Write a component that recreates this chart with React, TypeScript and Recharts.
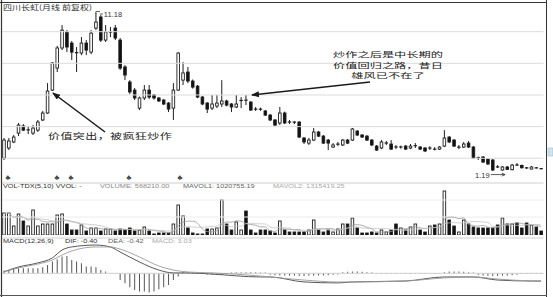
import React from 'react';
import { ComposedChart, Bar, Line, XAxis, YAxis, ReferenceLine, ReferenceDot } from 'recharts';

// ---- Price (monthly, 前复权) ----
const opens = [
  2.01, 2.65, 3.03, 3.59, 4.04, 3.78, 3.59, 3.78, 4.42, 4.86,
  6.31, 7.70, 8.97, 9.98, 9.28, 8.68, 8.65, 9.28, 8.71, 10.23,
  10.93, 9.47, 9.95, 10.23, 9.47, 7.77, 6.82, 6.31, 5.17, 5.81,
  6.31, 6.00, 5.81, 5.68, 5.49, 5.17, 6.31, 6.94, 7.45, 6.88,
  6.56, 5.87, 5.49, 5.17, 5.30, 5.43, 5.62, 5.43, 5.24, 5.60,
  5.68, 5.55, 5.11, 5.11, 4.99, 4.73, 4.42, 4.23, 4.86, 4.30,
  4.29, 4.29, 3.28, 2.96, 3.15, 3.66, 3.40, 3.15, 2.71, 2.88,
  2.84, 3.15, 3.15, 3.72, 3.47, 3.40, 3.15, 2.77, 2.65, 2.96,
  2.90, 2.72, 2.70, 2.77, 2.65, 2.78, 2.71, 2.65, 2.64, 2.58,
  2.58, 2.77, 3.34, 3.15, 2.70, 2.71, 2.96, 2.71, 2.04, 2.08,
  1.95, 1.89, 1.46, 1.26, 1.45, 1.28, 1.58, 1.55, 1.40, 1.32,
  1.40, 1.35,
];
const highs = [
  3.28, 3.28, 3.47, 4.23, 4.16, 4.04, 4.10, 4.42, 4.99, 6.75,
  8.08, 9.10, 10.42, 10.10, 9.41, 9.03, 9.66, 9.47, 10.10, 11.18,
  11.05, 10.42, 10.30, 10.42, 9.60, 7.89, 6.94, 6.44, 5.90, 6.63,
  6.63, 6.06, 5.87, 5.75, 5.55, 6.75, 8.71, 8.08, 7.77, 6.98,
  6.63, 5.93, 5.55, 6.00, 6.00, 6.94, 5.70, 5.49, 6.00, 5.87,
  6.00, 5.62, 5.24, 5.20, 5.05, 4.80, 4.48, 5.24, 4.95, 4.42,
  4.35, 4.35, 3.34, 3.28, 3.91, 3.72, 3.47, 3.22, 2.96, 3.03,
  3.22, 3.22, 3.91, 3.78, 3.53, 3.47, 3.22, 2.84, 3.15, 3.09,
  3.15, 2.84, 2.80, 2.84, 2.90, 2.96, 2.77, 2.71, 2.77, 2.71,
  2.77, 3.78, 3.40, 3.22, 2.84, 3.03, 3.09, 2.77, 2.10, 2.14,
  2.01, 1.95, 1.57, 1.51, 1.51, 1.64, 1.70, 1.60, 1.45, 1.51,
  1.45, 1.38,
];
const lows = [
  1.89, 2.52, 2.96, 3.40, 3.72, 3.53, 3.47, 3.66, 4.35, 4.80,
  6.25, 7.45, 8.84, 8.71, 8.21, 7.45, 8.52, 8.52, 8.58, 10.10,
  9.35, 9.35, 9.66, 9.47, 7.58, 6.94, 6.06, 5.68, 5.05, 5.68,
  5.74, 5.70, 5.55, 5.36, 4.92, 4.42, 6.25, 6.63, 6.75, 6.40,
  5.80, 5.36, 4.86, 5.05, 5.17, 5.24, 5.28, 4.92, 5.17, 5.17,
  5.36, 4.99, 4.99, 5.00, 4.67, 4.35, 4.04, 4.10, 4.16, 4.16,
  4.16, 3.28, 2.90, 2.84, 3.09, 3.34, 2.90, 2.52, 2.65, 2.77,
  2.77, 2.90, 3.09, 3.40, 3.28, 3.09, 2.77, 2.46, 2.58, 2.84,
  2.52, 2.58, 2.60, 2.52, 2.58, 2.65, 2.52, 2.39, 2.52, 2.50,
  2.52, 2.71, 2.96, 2.71, 2.58, 2.65, 2.65, 1.95, 1.89, 1.70,
  1.57, 1.19, 1.38, 1.22, 1.26, 1.24, 1.51, 1.35, 1.32, 1.30,
  1.35, 1.30,
];
const closes = [
  3.15, 3.09, 3.34, 4.10, 3.78, 3.80, 3.91, 4.29, 4.86, 6.25,
  8.02, 8.97, 10.10, 9.03, 8.71, 8.65, 9.28, 8.84, 9.91, 10.61,
  9.47, 9.98, 9.98, 9.60, 7.70, 7.26, 6.19, 5.81, 5.81, 6.31,
  5.87, 5.81, 5.62, 5.43, 5.11, 6.31, 8.65, 7.39, 6.88, 6.50,
  5.87, 5.43, 5.11, 5.43, 5.49, 5.62, 5.36, 5.24, 5.43, 5.66,
  5.66, 5.05, 5.05, 5.10, 4.73, 4.42, 4.10, 4.86, 4.23, 4.29,
  4.28, 3.34, 3.03, 3.15, 3.66, 3.40, 2.96, 2.96, 2.84, 2.90,
  3.15, 2.96, 3.85, 3.47, 3.34, 3.15, 2.84, 2.52, 3.03, 2.97,
  2.58, 2.71, 2.72, 2.58, 2.77, 2.80, 2.58, 2.46, 2.65, 2.57,
  2.71, 3.28, 3.03, 2.77, 2.71, 2.90, 2.71, 2.01, 2.01, 1.76,
  1.64, 1.26, 1.45, 1.45, 1.30, 1.57, 1.57, 1.40, 1.38, 1.45,
  1.38, 1.32,
];

// ---- Volume (10万股) ----
const volumes = [
  22, 22, 9, 21, 14, 9, 25, 9, 11, 11,
  11, 20, 21, 11, 5, 5, 10, 4, 7, 7,
  4, 6, 6, 4, 6, 5, 7, 4, 5, 8,
  4, 1, 2, 2, 2, 11, 30, 19, 7, 2,
  1, 1, 6, 6, 7, 35, 11, 5, 13, 5,
  24, 5, 2, 5, 5, 4, 2, 14, 5, 3,
  3, 3, 3, 5, 15, 5, 3, 5, 3, 6,
  11, 11, 17, 7, 2, 2, 3, 2, 5, 3,
  5, 11, 7, 5, 8, 11, 5, 3, 9, 10,
  11, 44, 15, 9, 3, 15, 11, 8, 7, 7,
  7, 7, 10, 17, 11, 11, 12, 7, 12, 10,
  8, 4,
];

// ---- MACD(12,26,9) ----
const macdHist = [
  0.14, 0.17, 0.21, 0.26, 0.26, 0.26, 0.26, 0.26, 0.31, 0.43,
  0.61, 0.73, 0.87, 0.90, 0.69, 0.61, 0.52, 0.35, 0.35, 0.31,
  0.17, 0.09, 0.02, -0.02, -0.35, -0.52, -0.73, -0.87, -0.95, -0.95,
  -1.0, -0.95, -0.83, -0.73, -0.61, -0.35, -0.17, 0.05, 0.06, 0.05,
  0.04, 0.03, -0.06, -0.08, -0.08, -0.07, -0.05, 0.04, 0.05, 0.05,
  0.06, 0.05, 0.05, 0.04, 0.04, -0.08, -0.10, -0.12, -0.12, -0.13,
  -0.13, -0.14, -0.14, -0.13, -0.13, -0.12, -0.12, -0.10, -0.08, -0.06,
  0.05, 0.08, 0.09, 0.09, 0.08, 0.06, 0.04, -0.03, -0.04, -0.04,
  -0.04, -0.04, -0.04, -0.04, -0.04, -0.04, -0.04, -0.04, -0.04, -0.03,
  -0.02, 0.06, 0.09, 0.10, 0.10, 0.08, 0.06, 0.04, -0.08, -0.12,
  -0.13, -0.14, -0.14, -0.13, -0.12, -0.10, -0.08, -0.04, -0.03, -0.03,
  -0.03, -0.03,
];
const macdSampleIdx = [0, 3, 7, 10, 12, 14, 19, 22, 24, 28, 32, 35, 38, 43, 53, 55, 62, 69, 72, 83, 91, 97, 102, 109, 111];
const difSamples = [0.08, 0.33, 0.54, 0.80, 1.21, 1.37, 1.47, 1.37, 1.11, 0.59, 0.17, 0.02, 0.02, -0.04, -0.19, -0.19, -0.45, -0.50, -0.45, -0.40, -0.19, -0.19, -0.35, -0.40, -0.40];
const deaSamples = [0.07, 0.28, 0.48, 0.69, 0.95, 1.16, 1.37, 1.37, 1.26, 0.85, 0.38, 0.17, 0.07, 0.02, -0.14, -0.19, -0.35, -0.45, -0.45, -0.40, -0.24, -0.19, -0.30, -0.40, -0.42];

const priceGrid = [2, 4, 6, 8, 10];
const marks = ['♣', '♣', '♣', '♣', '♣'];
const markX = [8, 57, 71, 129, 180];
const noteLines = ['炒作之后是中长期的', '价值回归之路，昔日', '雄风已不在了'];

const movAvg = (arr: number[], n: number, i: number) => {
  const s = arr.slice(Math.max(0, i - n + 1), i + 1);
  return s.reduce((a, b) => a + b, 0) / s.length;
};

const data = opens.map((o, i) => {
  const k = macdSampleIdx.indexOf(i);
  return {
    i,
    open: o,
    high: highs[i],
    low: lows[i],
    close: closes[i],
    vol: volumes[i],
    ma5: movAvg(volumes, 5, i),
    ma10: movAvg(volumes, 10, i),
    hist: macdHist[i],
    dif: k >= 0 ? difSamples[k] : null,
    dea: k >= 0 ? deaSamples[k] : null,
  };
});

const INK = '#1e1e1e';
const BW = 3.4;

const Candle = (props: any) => {
  const { x, y, width, height, payload } = props;
  if (x == null || y == null) return null;
  const { open, close, high, low } = payload;
  const ratio = height / (high - low);
  const up = close >= open;
  const yo = y + (high - open) * ratio;
  const yc = y + (high - close) * ratio;
  const top = Math.min(yo, yc);
  const bh = Math.abs(yo - yc);
  const cx = x + width / 2;
  return (
    <g>
      <line x1={cx} x2={cx} y1={y} y2={y + height} stroke={INK} strokeWidth={1} />
      {bh < 1.2 ? (
        <rect x={cx - BW / 2} y={top - 0.5} width={BW} height={1.2} fill={INK} />
      ) : (
        <rect x={cx - BW / 2 + 0.4} y={top} width={BW - 0.8} height={bh} fill={up ? '#fff' : '#111'} stroke={INK} strokeWidth={0.9} />
      )}
    </g>
  );
};

const VolBar = (props: any) => {
  const { x, y, width, height, payload } = props;
  if (x == null || y == null) return null;
  const up = payload.close >= payload.open;
  const cx = x + width / 2;
  return (
    <rect x={cx - BW / 2 + 0.4} y={y} width={BW - 0.8} height={Math.max(height, 0.8)} fill={up ? '#fff' : '#111'} stroke={INK} strokeWidth={0.9} />
  );
};

const HighMark = (p: any) => {
  const { cx, cy } = p;
  return (
    <g>
      <polyline points={`${cx},${cy + 1} ${cx},${cy - 1.5} ${cx + 4},${cy - 1.5}`} fill="none" stroke="#333" strokeWidth={0.8} />
      <line x1={cx + 4} y1={cy + 1} x2={cx + 7} y2={cy + 1} stroke="#333" strokeWidth={0.8} />
      <text x={cx + 8} y={cy + 4} fontSize={7.5} fill="#333" fontFamily="Liberation Sans, Arial, sans-serif">11.18</text>
    </g>
  );
};

const LowMark = (p: any) => {
  const { cx, cy } = p;
  return (
    <g>
      <text x={cx - 3} y={cy + 6.5} fontSize={7.5} fill="#333" textAnchor="end" fontFamily="Liberation Sans, Arial, sans-serif">1.19</text>
      <line x1={cx - 2} y1={cy + 3.5} x2={cx + 12} y2={cy + 3.5} stroke="#333" strokeWidth={0.8} />
      <polyline points={`${cx + 9},${cy + 2} ${cx + 12.5},${cy + 3.5} ${cx + 9},${cy + 5}`} fill="none" stroke="#333" strokeWidth={0.8} />
    </g>
  );
};

const M = { right: 9.5, left: 1.5 };
const CJK = '"Noto Sans CJK SC", "Noto Sans", sans-serif';
const SANS = '"Liberation Sans", Arial, sans-serif';

export default function App() {
  return (
    <div style={{ position: 'absolute', left: 0, top: 0, width: 553, height: 297, background: '#fff', overflow: 'hidden' }}>
      {/* Price panel */}
      <div style={{ position: 'absolute', left: 0, top: 0 }}>
        <ComposedChart width={553} height={180} data={data} margin={{ top: 5, bottom: 5, ...M }} barCategoryGap={0}>
          <XAxis dataKey="i" type="category" hide />
          <YAxis type="number" domain={[0.943, 11.687]} hide width={0} allowDataOverflow />
          {priceGrid.map((g) => (
            <ReferenceLine key={g} y={g} stroke="#dcdcdc" strokeWidth={1} />
          ))}
          <Bar dataKey={(d: any) => [d.low, d.high]} shape={<Candle />} isAnimationActive={false} />
          <ReferenceDot x={19} y={11.18} r={0} shape={(p: any) => <HighMark {...p} />} />
          <ReferenceDot x={101} y={1.19} r={0} shape={(p: any) => <LowMark {...p} />} />
        </ComposedChart>
      </div>
      {/* Volume panel */}
      <div style={{ position: 'absolute', left: 0, top: 180 }}>
        <ComposedChart width={553} height={60} data={data} margin={{ top: 3, bottom: 5, ...M }} barCategoryGap={0}>
          <XAxis dataKey="i" type="category" hide />
          <YAxis type="number" domain={[0, 52]} hide width={0} allowDataOverflow />
          <ReferenceLine y={52} stroke="#cfcfcf" />
          <ReferenceLine y={35} stroke="#ececec" />
          <ReferenceLine y={18} stroke="#ececec" />
          <Bar dataKey="vol" shape={<VolBar />} isAnimationActive={false} />
          <Line dataKey="ma5" type="monotone" stroke="#999" strokeWidth={0.8} dot={false} isAnimationActive={false} />
          <Line dataKey="ma10" type="monotone" stroke="#c4c4c4" strokeWidth={0.8} dot={false} isAnimationActive={false} />
        </ComposedChart>
      </div>
      {/* MACD panel */}
      <div style={{ position: 'absolute', left: 0, top: 237 }}>
        <ComposedChart width={553} height={60} data={data} margin={{ top: 1, bottom: 0, ...M }} barCategoryGap={0}>
          <XAxis dataKey="i" type="category" hide />
          <YAxis type="number" domain={[-1.232, 1.836]} hide width={0} allowDataOverflow />
          <ReferenceLine y={1.836} stroke="#cfcfcf" />
          <ReferenceLine y={0} stroke="#d0d0d0" />
          <Bar dataKey="hist" barSize={1} fill="#555" isAnimationActive={false} />
          <Line dataKey="dif" type="monotone" connectNulls stroke="#444" strokeWidth={0.9} dot={false} isAnimationActive={false} />
          <Line dataKey="dea" type="monotone" connectNulls stroke="#9a9a9a" strokeWidth={0.9} dot={false} isAnimationActive={false} />
        </ComposedChart>
      </div>

      {/* Frame, titles and annotations */}
      <svg width={553} height={297} style={{ position: 'absolute', left: 0, top: 0, pointerEvents: 'none' }}>
        <defs>
          <marker id="ah" markerWidth="8" markerHeight="6" refX="7" refY="3" orient="auto" markerUnits="userSpaceOnUse">
            <path d="M0,0 L8,3 L0,6 Z" fill="#1a1a1a" />
          </marker>
        </defs>
        <line x1={0} y1={2.5} x2={547} y2={2.5} stroke="#333" strokeWidth={1} />
        <line x1={1.5} y1={0} x2={1.5} y2={297} stroke="#333" strokeWidth={1.2} />
        <line x1={546.5} y1={0} x2={546.5} y2={297} stroke="#333" strokeWidth={1} />
        <line x1={0} y1={295.5} x2={547} y2={295.5} stroke="#555" strokeWidth={1} />
        <rect x={548} y={148} width={5} height={8} fill="#cfe3ef" stroke="#9bbfd6" strokeWidth={0.6} />

        <text transform="translate(3,9.6) scale(1,0.78)" fontSize={9} fill="#333" fontFamily={CJK}>四川长虹(月线 前复权)</text>

        {marks.map((m, k) => (
          <text key={k} x={markX[k]} y={179.5} fontSize={7.5} fill="#444" textAnchor="middle" fontFamily={SANS}>{m}</text>
        ))}

        <text transform="translate(3,187.6) scale(1,0.85)" fontSize={7.3} fill="#333" fontFamily={SANS}>VOL-TDX(5,10) VVOL: -</text>
        <text transform="translate(100,187.6) scale(1,0.85)" fontSize={7.3} fill="#8a8a8a" fontFamily={SANS}>VOLUME: 568210.00</text>
        <text transform="translate(183,187.6) scale(1,0.85)" fontSize={7.3} fill="#666" fontFamily={SANS}>MAVOL1: 1020755.19</text>
        <text transform="translate(273,187.6) scale(1,0.85)" fontSize={7.3} fill="#aaa" fontFamily={SANS}>MAVOL2: 1315419.25</text>

        <text transform="translate(3,242.6) scale(1,0.85)" fontSize={7.3} fill="#333" fontFamily={SANS}>MACD(12,26,9)</text>
        <text transform="translate(65,242.6) scale(1,0.85)" fontSize={7.3} fill="#333" fontFamily={SANS}>DIF: -0.40</text>
        <text transform="translate(108,242.6) scale(1,0.85)" fontSize={7.3} fill="#666" fontFamily={SANS}>DEA: -0.42</text>
        <text transform="translate(152,242.6) scale(1,0.85)" fontSize={7.3} fill="#aaa" fontFamily={SANS}>MACD: 3.03</text>

        <line x1={105} y1={132} x2={53} y2={93} stroke="#1a1a1a" strokeWidth={1.5} markerEnd="url(#ah)" />
        <text transform="translate(48,139) scale(1.14,0.8)" fontSize={10.6} fill="#222" letterSpacing={0.3} fontFamily={CJK}>价值突出，被疯狂炒作</text>

        <line x1={370} y1={82} x2={252} y2={95} stroke="#1a1a1a" strokeWidth={1.5} markerEnd="url(#ah)" />
        {noteLines.map((t, k) => (
          <text key={k} transform={`translate(388,${57.3 + k * 10.5}) scale(1.36,0.8)`} fontSize={9} fill="#222" textAnchor="middle" fontFamily={CJK}>{t}</text>
        ))}
      </svg>
    </div>
  );
}
